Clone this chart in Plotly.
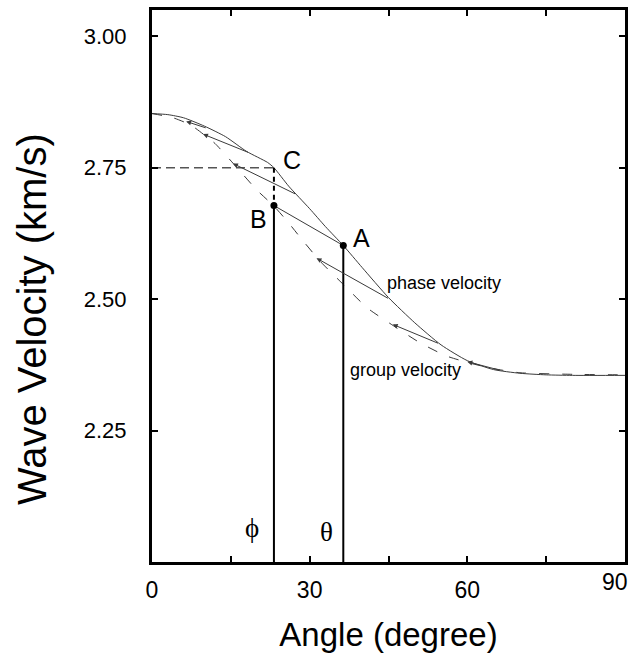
import plotly.graph_objects as go

# ---------------- data ----------------
phase_angle = [0, 3, 6, 10, 14, 18, 22, 23.2, 26, 30, 33, 36.4, 40, 45, 50, 55, 60, 65, 70, 75, 80, 90]
phase_vel = [2.853, 2.851, 2.845, 2.829, 2.809, 2.781, 2.760, 2.750, 2.715, 2.672, 2.638, 2.602,
             2.560, 2.503, 2.455, 2.413, 2.383, 2.366, 2.359, 2.356, 2.355, 2.355]

group_angle = [0, 4, 7.4, 10, 12, 16, 20, 23.2, 26, 28, 32, 36.5, 41, 46, 51, 56, 61, 66, 70, 80, 90]
group_vel = [2.853, 2.845, 2.831, 2.812, 2.796, 2.752, 2.707, 2.677, 2.645, 2.620, 2.572, 2.527,
             2.483, 2.449, 2.417, 2.392, 2.377, 2.366, 2.360, 2.357, 2.356]

# construction lines: phase point -> group point
con_phase_angle = [10.5, 18.6, 27.5, 45.2, 54.7, 66.5]
con_phase_vel = [2.825, 2.778, 2.699, 2.500, 2.415, 2.364]
con_group_angle = [6.5, 9.7, 15.4, 31.3, 45.8, 60.0]
con_group_vel = [2.838, 2.814, 2.758, 2.578, 2.452, 2.381]

point_A = (36.4, 2.602)
point_B = (23.2, 2.678)
point_C = (23.2, 2.750)

x_ticks = [0, 15, 30, 45, 60, 75, 90]
x_ticktext = ["0", "", "30", "", "60", "", ""]
x_last_label = "90"
y_ticks = [2.25, 2.50, 2.75, 3.00]
y_ticktext = ["2.25", "2.50", "2.75", "3.00"]

x_range = [0, 90]
y_range = [2.0, 3.05]

x_title = "Angle (degree)"
y_title = "Wave Velocity (km/s)"

LINE = "#3a3a3a"
FONT = "Liberation Sans, Arial, Helvetica, sans-serif"
SERIF = "Liberation Serif, Times New Roman, serif"

fig = go.Figure()

# phase velocity curve
fig.add_trace(go.Scatter(x=phase_angle, y=phase_vel, mode="lines",
                         line=dict(color=LINE, width=1, shape="spline", smoothing=0.6),
                         hoverinfo="skip", showlegend=False))
# group velocity curve (dashed)
fig.add_trace(go.Scatter(x=group_angle, y=group_vel, mode="lines",
                         line=dict(color=LINE, width=1, dash="10px,13px", shape="spline", smoothing=0.6),
                         hoverinfo="skip", showlegend=False))

# construction lines with arrowheads toward group point
for pa, pv, ga, gv in zip(con_phase_angle, con_phase_vel, con_group_angle, con_group_vel):
    fig.add_annotation(x=ga, y=gv, ax=pa, ay=pv, xref="x", yref="y", axref="x", ayref="y",
                       showarrow=True, arrowhead=2, arrowsize=1.0, arrowwidth=1,
                       arrowcolor=LINE, text="")

# line A -> B
fig.add_trace(go.Scatter(x=[point_A[0], point_B[0]], y=[point_A[1], point_B[1]], mode="lines",
                         line=dict(color=LINE, width=1), hoverinfo="skip", showlegend=False))

# dashed horizontal from axis to C, dashed vertical C -> B
fig.add_trace(go.Scatter(x=[x_range[0], point_C[0]], y=[point_C[1], point_C[1]], mode="lines",
                         line=dict(color="#555555", width=1.5, dash="9px,5px"),
                         hoverinfo="skip", showlegend=False))
fig.add_trace(go.Scatter(x=[point_C[0], point_B[0]], y=[point_C[1], point_B[1]], mode="lines",
                         line=dict(color="black", width=2, dash="5px,4px"),
                         hoverinfo="skip", showlegend=False))

# solid verticals from B and A to the bottom
for px, py in (point_B, point_A):
    fig.add_trace(go.Scatter(x=[px, px], y=[py, y_range[0]], mode="lines",
                             line=dict(color="black", width=2),
                             hoverinfo="skip", showlegend=False))

# dots at A and B
fig.add_trace(go.Scatter(x=[point_A[0], point_B[0]], y=[point_A[1], point_B[1]], mode="markers",
                         marker=dict(color="black", size=7), hoverinfo="skip", showlegend=False))

# labels
labels = [
    ("C", 26.6, 2.765, 25, FONT),
    ("B", 20.3, 2.652, 25, FONT),
    ("A", 39.9, 2.616, 25, FONT),
    ("phase velocity", 55.6, 2.530, 18, FONT),
    ("group velocity", 48.2, 2.366, 18, FONT),
    ("ϕ", 19.0, 2.064, 27, SERIF),
    ("θ", 33.2, 2.057, 27, SERIF),
]
for t, x, y, s, f in labels:
    fig.add_annotation(x=x, y=y, xref="x", yref="y", text=t, showarrow=False,
                       font=dict(size=s, color="black", family=f))

# last x tick label, pulled inside the page as in the original
fig.add_annotation(x=x_ticks[-1], y=0, xref="x", yref="paper", text=x_last_label,
                   showarrow=False, xanchor="right", yanchor="top", xshift=5, yshift=-5,
                   font=dict(size=23, color="black", family=FONT))

# y-axis title (placed slightly below the plot centre, as in the original)
fig.add_annotation(x=0, y=0.44, xref="paper", yref="paper", text=y_title, textangle=-90,
                   showarrow=False, xanchor="center", yanchor="middle", xshift=-120,
                   font=dict(size=40, color="black", family=FONT))

fig.update_layout(
    width=635, height=658,
    margin=dict(l=152, r=9, t=7, b=96),
    paper_bgcolor="white", plot_bgcolor="white",
    font=dict(family=FONT, color="black"),
    showlegend=False,
)
fig.update_xaxes(range=x_range, tickvals=x_ticks, ticktext=x_ticktext,
                 ticks="inside", ticklen=6, tickwidth=2, tickcolor="black",
                 showline=True, linewidth=3, linecolor="black", mirror="ticks",
                 showgrid=False, zeroline=False,
                 tickfont=dict(size=23, family=FONT), ticklabelstandoff=5,
                 title=dict(text=x_title, font=dict(size=33, family=FONT), standoff=22))
fig.update_yaxes(range=y_range, tickvals=y_ticks, ticktext=y_ticktext,
                 ticks="inside", ticklen=6, tickwidth=2, tickcolor="black",
                 showline=True, linewidth=3, linecolor="black", mirror="ticks",
                 showgrid=False, zeroline=False,
                 tickfont=dict(size=22, family=FONT), ticklabelstandoff=18)

fig.write_html("out.html")
